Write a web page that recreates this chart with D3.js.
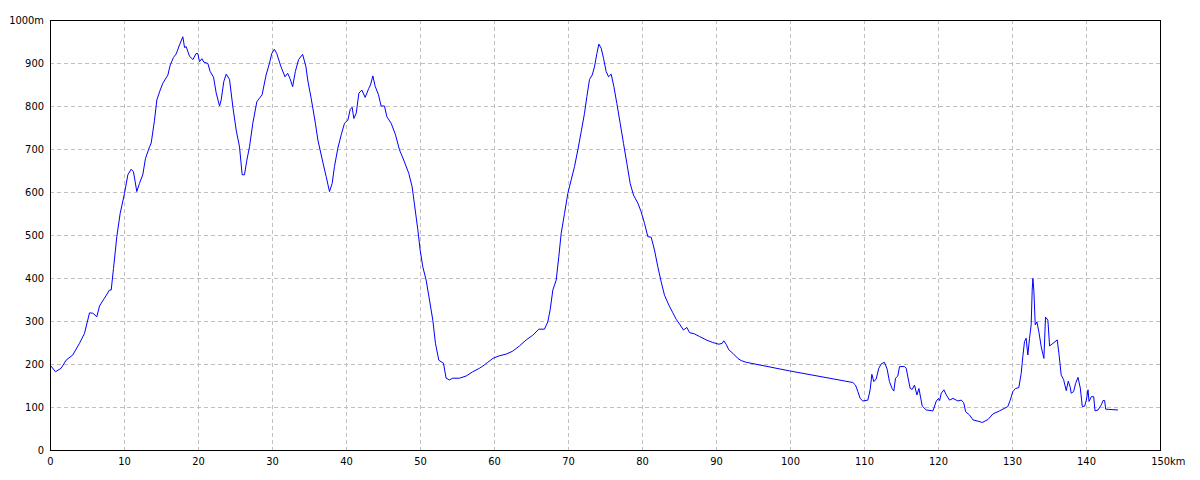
<!DOCTYPE html>
<html>
<head>
<meta charset="utf-8">
<script src="https://cdn.jsdelivr.net/npm/d3@7"></script>
<style>
  html, body { margin: 0; padding: 0; background: #fff; }
  svg text { font-family: "DejaVu Sans Condensed", "Liberation Sans Narrow", "DejaVu Sans", sans-serif; font-size: 11px; fill: #000; }
</style>
</head>
<body>
<svg id="chart" width="1200" height="480"></svg>
<script>
const distanceKm = [
  0.0, 0.74, 1.5, 2.18, 3.08, 3.98, 4.66, 5.34, 5.79, 6.33, 6.69, 7.36, 8.04, 8.27, 8.58, 9.03, 9.48,
  10.07, 10.52, 10.97, 11.28, 11.73, 12.09, 12.54, 12.9, 13.45, 13.68, 14.12, 14.44, 14.89, 15.25, 15.93,
  16.24, 16.69, 17.05, 17.5, 17.95, 18.18, 18.4, 18.85, 19.3, 19.75, 19.98, 20.2, 20.52, 20.79, 21.33,
  21.65, 22.1, 22.46, 22.91, 23.13, 23.49, 23.81, 24.26, 24.71, 25.16, 25.61, 25.97, 26.28, 26.6, 26.96,
  27.41, 27.95, 28.3, 28.66, 29.2, 29.65, 29.97, 30.32, 30.64, 31.22, 31.76, 32.12, 32.43, 32.79, 33.15,
  33.6, 34.14, 34.59, 34.85, 35.27, 35.52, 35.86, 36.2, 36.9, 37.32, 37.77, 38.13, 38.44, 38.9, 39.35,
  39.8, 40.25, 40.57, 40.83, 41.06, 41.38, 41.74, 42.14, 42.59, 43.08, 43.31, 43.63, 43.94, 44.39, 44.75,
  45.2, 45.52, 46.1, 46.69, 47.23, 47.9, 48.49, 48.94, 49.26, 49.71, 50.02, 50.38, 50.83, 51.28, 51.73,
  52.09, 52.54, 52.86, 53.17, 53.53, 53.98, 54.43, 55.33, 56.23, 57.13, 58.03, 58.71, 59.16, 59.84, 60.7,
  61.64, 62.54, 63.44, 64.35, 65.25, 66.06, 66.82, 67.27, 67.59, 67.95, 68.4, 68.76, 69.08, 69.53, 69.98,
  70.43, 70.88, 71.33, 71.78, 72.23, 72.55, 72.91, 73.27, 73.58, 73.9, 74.17, 74.49, 74.8, 75.16, 75.48,
  75.84, 76.2, 76.6, 77.05, 77.5, 77.95, 78.4, 78.85, 79.44, 79.89, 80.34, 80.79, 81.24, 81.69, 82.14,
  82.59, 83.04, 83.63, 84.17, 84.62, 85.07, 85.61, 86.06, 86.42, 87.09, 87.77, 88.67, 89.57, 90.38, 90.83,
  91.05, 91.37, 91.73, 92.27, 92.95, 93.4, 94.07, 99.93, 108.49, 108.85, 109.17, 109.48, 109.84, 110.52,
  110.83, 111.06, 111.33, 111.64, 112.0, 112.31, 112.76, 113.13, 113.44, 113.8, 114.03, 114.26, 114.57,
  114.8, 115.47, 115.7, 116.24, 116.51, 116.83, 117.15, 117.42, 117.87, 118.42, 119.32, 119.77, 120.08,
  120.22, 120.44, 120.8, 121.12, 121.57, 122.02, 122.7, 123.15, 123.47, 123.74, 124.28, 124.73, 125.41,
  125.99, 126.76, 127.43, 128.33, 129.44, 129.76, 130.12, 130.47, 130.92, 131.24, 131.46, 131.69, 131.91,
  132.14, 132.37, 132.59, 132.73, 132.82, 132.95, 133.14, 133.36, 133.63, 133.95, 134.31, 134.53, 134.85,
  135.08, 135.53, 136.11, 136.34, 136.65, 136.97, 137.33, 137.6, 137.87, 138.0, 138.33, 138.6, 138.92,
  139.23, 139.5, 139.82, 140.05, 140.27, 140.41, 140.72, 141.04, 141.22, 141.62, 142.07, 142.3, 142.52,
  142.66, 144.32
];
const elevationM = [
  198, 182, 190, 209, 221, 248, 271, 319, 318, 310, 335, 353, 372, 372, 422, 496, 550,
  597, 640, 653, 647, 601, 620, 640, 678, 705, 714, 767, 814, 837, 853, 872,
  895, 913, 921, 942, 961, 936, 938, 916, 908, 922, 922, 903, 910, 902, 899,
  880, 867, 830, 800, 814, 857, 874, 862, 798, 744, 705, 640, 640, 674, 705,
  760, 810, 818, 826, 872, 899, 922, 932, 922, 891, 868, 876, 864, 845, 880,
  908, 920, 891, 858, 820, 795, 760, 721, 667, 636, 601, 620, 659, 702, 733,
  760, 767, 792, 797, 771, 783, 830, 837, 820, 841, 849, 870, 846, 826, 800,
  800, 775, 760, 733, 698, 670, 643, 612, 570, 512, 465, 426, 395, 349, 302,
  248, 209, 205, 202, 167, 163, 167, 167, 172, 182, 190, 198, 204, 213, 219,
  223, 230, 242, 256, 267, 281, 281, 298, 326, 372, 395, 450, 504, 550, 597,
  628, 659, 698, 740, 783, 822, 862, 872, 891, 922, 944, 934, 911, 880, 868,
  874, 845, 806, 760, 713, 667, 620, 593, 574, 554, 527, 496, 495, 465, 426,
  391, 360, 337, 319, 304, 293, 279, 285, 273, 270, 264, 256, 250, 246, 248,
  254, 246, 233, 225, 213, 208, 204, 184, 157, 151, 136, 120, 114, 116,
  140, 176, 159, 165, 190, 200, 204, 188, 159, 143, 137, 167, 172,
  194, 194, 190, 143, 141, 151, 128, 143, 102, 93, 91, 114, 120,
  115, 132, 140, 128, 116, 120, 114, 116, 110, 89, 81, 70, 67,
  64, 71, 84, 91, 101, 116, 136, 143, 145, 178, 217, 252, 260,
  221, 260, 291, 372, 399, 372, 291, 298, 275, 240, 213, 309, 302,
  242, 248, 256, 225, 174, 164, 138, 160, 146, 132, 136, 155, 169,
  144, 101, 102, 116, 140, 113, 124, 124, 91, 93, 105, 115, 115,
  95, 93
];
const xTicks = [0, 10, 20, 30, 40, 50, 60, 70, 80, 90, 100, 110, 120, 130, 140, 150];
const yTicks = [0, 100, 200, 300, 400, 500, 600, 700, 800, 900, 1000];
const xUnit = "km";
const yUnit = "m";

const svg = d3.select("#chart");
const plotLeft = 50, plotRight = 1160, plotTop = 20, plotBottom = 450;

const x = d3.scaleLinear().domain([0, 150]).range([plotLeft, plotRight]);
const y = d3.scaleLinear().domain([0, 1000]).range([plotBottom, plotTop]);

// grid
const grid = svg.append("g").attr("shape-rendering", "crispEdges");
grid.selectAll("line.vx").data(xTicks.slice(1, -1)).join("line")
  .attr("class", "vx")
  .attr("x1", d => Math.round(x(d)) + 0.5).attr("x2", d => Math.round(x(d)) + 0.5)
  .attr("y1", plotTop).attr("y2", plotBottom)
  .attr("stroke", "#c0c0c0").attr("stroke-dasharray", "4,3");
grid.selectAll("line.hy").data(yTicks.slice(1, -1)).join("line")
  .attr("class", "hy")
  .attr("y1", d => Math.round(y(d)) + 0.5).attr("y2", d => Math.round(y(d)) + 0.5)
  .attr("x1", plotLeft).attr("x2", plotRight)
  .attr("stroke", "#c0c0c0").attr("stroke-dasharray", "4,3");

// profile line
const pts = distanceKm.map((d, i) => [d, elevationM[i]]);
svg.append("path")
  .datum(pts)
  .attr("fill", "none")
  .attr("stroke", "#0000ff")
  .attr("stroke-width", 1)
  .attr("stroke-linejoin", "round")
  .attr("d", d3.line().x(d => x(d[0])).y(d => y(d[1])));

// frame
svg.append("rect")
  .attr("x", plotLeft + 0.5).attr("y", plotTop + 0.5)
  .attr("width", plotRight - plotLeft).attr("height", plotBottom - plotTop)
  .attr("fill", "none").attr("stroke", "#000").attr("stroke-width", 1)
  .attr("shape-rendering", "crispEdges");

// axes (labels only)
const xAxis = d3.axisBottom(x).tickValues(xTicks).tickSize(0).tickPadding(7)
  .tickFormat(d => d === 150 ? d + xUnit : d);
const gx = svg.append("g").attr("transform", `translate(0,${plotBottom})`).call(xAxis);
gx.select(".domain").remove();
gx.selectAll("text").attr("font-size", null).attr("font-family", null)
  .filter(d => d === 150).attr("text-anchor", "start").attr("dx", "-0.85em");

const yAxis = d3.axisLeft(y).tickValues(yTicks).tickSize(0).tickPadding(6)
  .tickFormat(d => d === 1000 ? d + yUnit : d);
const gy = svg.append("g").attr("transform", `translate(${plotLeft},0)`).call(yAxis);
gy.select(".domain").remove();
gy.selectAll("text").attr("font-size", null).attr("font-family", null);
</script>
</body>
</html>
